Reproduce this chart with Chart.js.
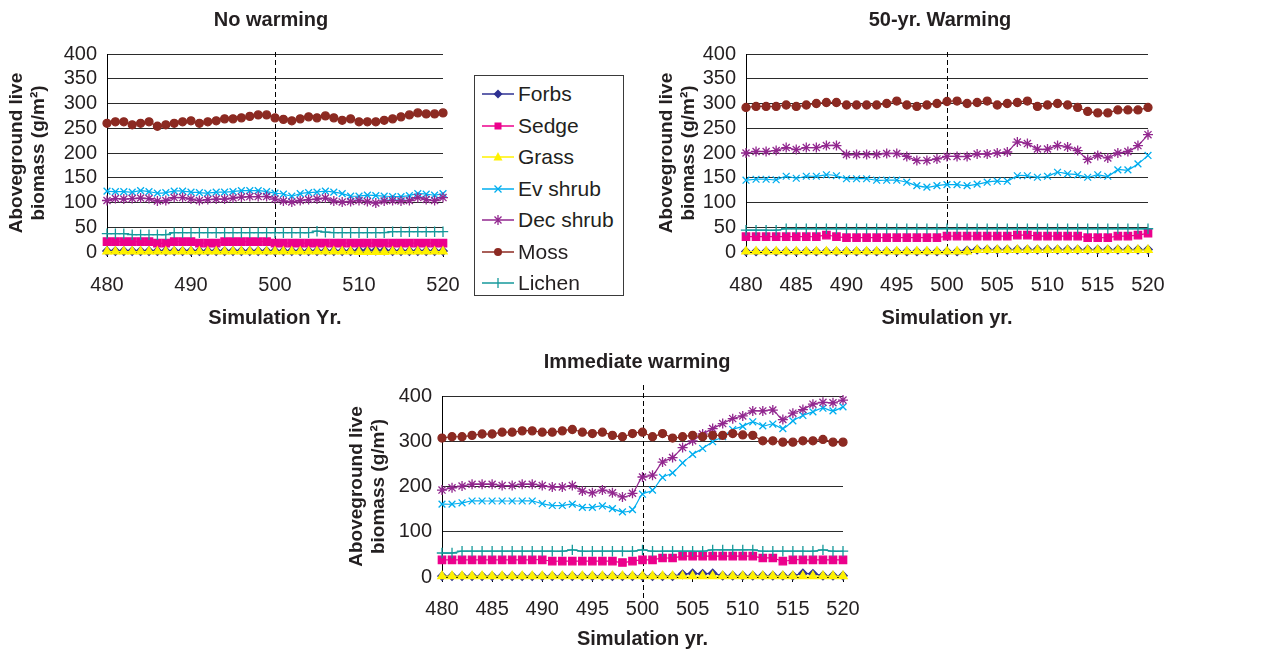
<!DOCTYPE html>
<html>
<head>
<meta charset="utf-8">
<title>Aboveground live biomass</title>
<script src="https://cdn.jsdelivr.net/npm/chart.js@4.4.1/dist/chart.umd.min.js"></script>
<style>
  body { margin: 0; background: #fff; font-family: "Liberation Sans", Arial, sans-serif; }
  #page { position: relative; width: 1273px; height: 651px; overflow: hidden; }
  #page canvas { position: absolute; }
  #legend {
    position: absolute; left: 474px; top: 75px; width: 150px; height: 221px;
    border: 1px solid #3a3a3a; box-sizing: border-box; background: #fff;
  }
  #legend .row {
    position: absolute; left: 7px; height: 32px; display: flex; align-items: center;
    font-size: 21px; color: #231f20; white-space: nowrap;
  }
  #legend svg { margin-right: 4px; }
</style>
</head>
<body>
<div id="page">
  <canvas id="noWarming" width="500" height="330" style="left:0;top:0"></canvas>
  <canvas id="warming50" width="623" height="330" style="left:650px;top:0"></canvas>
  <canvas id="immediate" width="600" height="311" style="left:340px;top:340px"></canvas>
  <div id="legend"></div>
</div>
<script>
// simulation years on the x axis
const years = [480, 481, 482, 483, 484, 485, 486, 487, 488, 489,
               490, 491, 492, 493, 494, 495, 496, 497, 498, 499,
               500, 501, 502, 503, 504, 505, 506, 507, 508, 509,
               510, 511, 512, 513, 514, 515, 516, 517, 518, 519, 520];

const seriesNames = ["Forbs", "Sedge", "Grass", "Ev shrub", "Dec shrub", "Moss", "Lichen"];

// tick labels
const xTicksNoWarming = [480, 490, 500, 510, 520];
const xTicksWarming = [480, 485, 490, 495, 500, 505, 510, 515, 520];
const yTicks50 = [0, 50, 100, 150, 200, 250, 300, 350, 400];
const yTicks100 = [0, 100, 200, 300, 400];

// --- No warming ---
const noForbs = [2, 2, 2, 2, 2, 2, 2, 2, 2, 2,
                 2, 2, 2, 2, 2, 2, 2, 2, 2, 2,
                 2, 2, 2, 2, 2, 2, 2, 2, 2, 2,
                 3, 3, 3, 3, 2, 2, 2, 2, 2, 2, 2];
const noGrass = [1, 1, 1, 1, 1, 1, 1, 1, 1, 1,
                 1, 1, 1, 1, 1, 1, 1, 1, 1, 1,
                 1, 1, 1, 1, 1, 1, 1, 1, 1, 1,
                 0, 0, 0, 0, 1, 1, 1, 1, 1, 1, 1];
const noSedge = [21, 21, 21, 21, 21, 21, 18, 18, 21, 21,
                 21, 18, 18, 18, 21, 21, 21, 21, 21, 21,
                 18, 18, 18, 18, 18, 18, 18, 18, 18, 18,
                 18, 18, 18, 18, 18, 18, 18, 18, 18, 18, 18];
const noEvShrub = [123, 122, 122, 121, 124, 122, 119, 120, 123, 123,
                   121, 120, 119, 121, 121, 122, 124, 124, 124, 122,
                   119, 117, 113, 118, 120, 121, 123, 121, 118, 113,
                   113, 115, 114, 113, 112, 112, 114, 118, 117, 115, 118];
const noDecShrub = [104, 108, 107, 108, 109, 108, 103, 104, 110, 110,
                    107, 104, 106, 107, 107, 109, 111, 112, 112, 112,
                    107, 103, 101, 104, 106, 107, 109, 103, 101, 102,
                    104, 102, 99, 103, 104, 103, 104, 110, 106, 104, 110];
const noMoss = [260, 263, 263, 257, 260, 263, 254, 257, 260, 263,
                265, 260, 263, 265, 269, 269, 271, 274, 277, 277,
                271, 268, 265, 269, 273, 271, 275, 271, 266, 269,
                263, 263, 263, 266, 269, 273, 277, 281, 279, 279, 281];
const noLichen = [37, 37, 37, 35, 35, 35, 35, 35, 39, 39,
                  39, 39, 39, 39, 39, 39, 39, 39, 39, 39,
                  39, 39, 39, 39, 39, 42, 40, 39, 39, 39,
                  39, 39, 39, 39, 41, 41, 41, 41, 41, 41, 41];

// --- 50-yr. warming ---
const w50Forbs = [1, 1, 1, 1, 1, 1, 1, 1, 1, 1,
                  1, 1, 1, 1, 1, 1, 1, 1, 1, 1,
                  1, 1, 3, 5, 5, 5, 5, 5, 5, 5,
                  5, 5, 5, 5, 5, 5, 5, 5, 5, 5, 5];
const w50Grass = [1, 1, 1, 1, 1, 1, 1, 1, 1, 1,
                  1, 1, 1, 1, 1, 1, 1, 1, 1, 1,
                  1, 1, 1, 4, 4, 4, 4, 4, 4, 4,
                  4, 4, 4, 4, 4, 4, 4, 4, 4, 4, 4];
const w50Sedge = [31, 31, 31, 31, 31, 31, 31, 31, 34, 31,
                  29, 29, 29, 29, 29, 29, 29, 29, 29, 29,
                  32, 32, 32, 32, 32, 32, 32, 34, 34, 32,
                  32, 32, 32, 32, 29, 29, 29, 32, 32, 34, 38];
const w50EvShrub = [145, 147, 147, 146, 153, 149, 153, 153, 156, 154,
                    148, 148, 148, 145, 145, 145, 141, 134, 131, 134,
                    136, 136, 134, 137, 141, 143, 143, 154, 154, 151,
                    153, 161, 158, 156, 151, 156, 153, 166, 166, 178, 195];
const w50DecShrub = [200, 203, 203, 205, 211, 207, 211, 211, 215, 215,
                     197, 197, 197, 197, 199, 199, 193, 185, 185, 188,
                     193, 193, 193, 198, 198, 200, 202, 222, 219, 208,
                     208, 215, 212, 205, 187, 195, 190, 200, 203, 215, 237];
const w50Moss = [292, 294, 294, 294, 297, 294, 297, 300, 302, 302,
                 297, 297, 297, 297, 300, 305, 297, 294, 297, 300,
                 304, 305, 300, 302, 305, 297, 300, 302, 305, 294,
                 297, 300, 297, 292, 284, 281, 281, 287, 287, 287, 292];
const w50Lichen = [44, 44, 44, 44, 47, 47, 47, 47, 47, 47,
                   47, 47, 47, 47, 47, 47, 47, 47, 47, 47,
                   47, 47, 47, 47, 47, 47, 47, 47, 47, 47,
                   47, 47, 47, 47, 47, 47, 47, 47, 47, 47, 47];

// --- Immediate warming ---
const imForbs = [2, 2, 2, 2, 2, 2, 2, 2, 2, 2,
                 2, 2, 2, 2, 2, 2, 2, 2, 2, 2,
                 2, 2, 2, 2, 6, 8, 7, 8, 3, 3,
                 3, 3, 3, 3, 3, 3, 8, 7, 3, 3, 3];
const imGrass = [2, 2, 2, 2, 2, 2, 2, 2, 2, 2,
                 2, 2, 2, 2, 2, 2, 2, 2, 2, 2,
                 2, 2, 2, 2, 2, 2, 2, 2, 2, 2,
                 2, 2, 2, 2, 2, 2, 2, 2, 2, 2, 2];
const imSedge = [38, 38, 38, 38, 38, 38, 38, 38, 38, 38,
                 38, 35, 35, 35, 35, 35, 35, 35, 32, 35,
                 38, 38, 42, 42, 46, 46, 46, 46, 46, 46,
                 46, 46, 42, 42, 35, 38, 38, 38, 38, 38, 38];
const imEvShrub = [161, 161, 164, 168, 168, 168, 168, 168, 168, 168,
                   162, 158, 158, 161, 154, 154, 157, 151, 144, 149,
                   183, 192, 220, 230, 252, 271, 284, 299, 310, 326,
                   333, 343, 334, 338, 328, 345, 357, 365, 373, 367, 376];
const imDecShrub = [192, 197, 201, 205, 205, 205, 202, 202, 205, 205,
                    202, 199, 199, 202, 190, 186, 192, 186, 177, 185,
                    221, 225, 254, 264, 286, 301, 316, 328, 339, 350,
                    356, 367, 367, 369, 348, 362, 370, 382, 386, 385, 391];
const imMoss = [307, 310, 310, 313, 316, 316, 320, 320, 323, 323,
                320, 320, 323, 326, 320, 317, 320, 313, 310, 317,
                320, 310, 317, 307, 310, 313, 310, 313, 313, 317,
                314, 313, 301, 301, 298, 298, 301, 301, 304, 298, 298];
const imLichen = [53, 53, 57, 57, 57, 57, 57, 57, 57, 57,
                  57, 57, 57, 60, 57, 57, 57, 57, 57, 57,
                  60, 57, 57, 57, 57, 57, 57, 60, 60, 60,
                  60, 60, 57, 57, 57, 57, 57, 57, 60, 57, 57];

const ink = "#231f20";
const family = '"Liberation Sans", Arial, sans-serif';
Chart.defaults.font.family = family;
Chart.defaults.color = ink;

const seriesColors = ["#2e3192", "#ec008c", "#fff200", "#00aeef", "#92278f", "#8c2a22", "#15999b"];
const markerStyles = ["rectRot", "rect", "triangle", "crossRot", "star", "circle", "cross"];
const markerSizes = [4.2, 5.2, 4.8, 4.8, 5, 4, 5.2];

// dashed vertical line marking the start of warming
const startLine = {
  id: "startLine",
  beforeDatasetsDraw(chart, args, opts) {
    const ctx = chart.ctx;
    const x = Math.round(chart.scales.x.getPixelForValue(opts.value)) + 0.5;
    ctx.save();
    ctx.setLineDash([5, 3]);
    ctx.strokeStyle = "#000";
    ctx.lineWidth = 1;
    ctx.beginPath();
    ctx.moveTo(x, chart.chartArea.top - opts.above);
    ctx.lineTo(x, chart.chartArea.bottom + opts.below);
    ctx.stroke();
    ctx.restore();
  }
};

// panel heading, centred where the original put it
const panelTitle = {
  id: "panelTitle",
  afterDraw(chart, args, opts) {
    const ctx = chart.ctx;
    ctx.save();
    ctx.font = "bold 20px " + family;
    ctx.fillStyle = ink;
    ctx.textAlign = "center";
    ctx.textBaseline = "alphabetic";
    ctx.fillText(opts.text, opts.x, opts.y);
    ctx.restore();
  }
};

function makeDatasets(values) {
  return values.map((vals, i) => ({
    label: seriesNames[i],
    data: vals.map((v, j) => ({ x: years[j], y: v })),
    borderColor: seriesColors[i],
    backgroundColor: seriesColors[i],
    borderWidth: 1.2,
    tension: 0.3,
    pointStyle: markerStyles[i],
    pointRadius: markerSizes[i],
    pointBorderWidth: 1.3,
    pointBorderColor: seriesColors[i],
    pointBackgroundColor: seriesColors[i],
    clip: false,
    order: seriesNames.length - i
  }));
}

function makeChart(id, p) {
  return new Chart(document.getElementById(id), {
    type: "line",
    data: { datasets: makeDatasets(p.series) },
    plugins: [startLine, panelTitle],
    options: {
      responsive: false,
      animation: false,
      devicePixelRatio: 1,
      layout: { padding: { left: 0, top: p.top, right: p.right, bottom: 0 } },
      plugins: {
        legend: { display: false },
        tooltip: { enabled: false },
        startLine: { value: 500, above: p.dashAbove, below: p.dashBelow },
        panelTitle: { text: p.title, x: p.titleX, y: p.titleY }
      },
      scales: {
        x: {
          type: "linear",
          min: 480,
          max: 520,
          afterBuildTicks: (s) => { s.ticks = p.xTicks.map((v) => ({ value: v })); },
          afterFit: (s) => { s.height = p.xHeight; },
          grid: { drawOnChartArea: false, drawTicks: true, tickLength: 5, color: "#000" },
          border: { color: "#000" },
          ticks: { font: { size: 20 }, color: ink, padding: p.xTickPad, maxRotation: 0, autoSkip: false },
          title: {
            display: true,
            text: p.xTitle,
            font: { size: 20, weight: "bold" },
            color: ink,
            padding: { top: 0, bottom: p.xTitlePad }
          }
        },
        y: {
          min: 0,
          max: 400,
          afterBuildTicks: (s) => { s.ticks = p.yTicks.map((v) => ({ value: v })); },
          afterFit: (s) => { s.width = p.yWidth; },
          grid: { color: "#2b2b2b", drawTicks: false },
          border: { color: "#000" },
          ticks: { font: { size: 20 }, color: ink, padding: 10, autoSkip: false },
          title: {
            display: true,
            text: ["Aboveground live", "biomass (g/m\u00b2)"],
            font: { size: 19, weight: "bold", lineHeight: 1.15 },
            color: ink,
            padding: { top: 6, bottom: 0 }
          }
        }
      }
    }
  });
}

makeChart("noWarming", {
  series: [noForbs, noSedge, noGrass, noEvShrub, noDecShrub, noMoss, noLichen],
  title: "No warming", titleX: 271, titleY: 26,
  xTitle: "Simulation Yr.", xTicks: xTicksNoWarming, yTicks: yTicks50,
  top: 54, right: 57, yWidth: 107, xHeight: 78, xTickPad: 16, xTitlePad: 0,
  dashAbove: 2, dashBelow: 6
});

makeChart("warming50", {
  series: [w50Forbs, w50Sedge, w50Grass, w50EvShrub, w50DecShrub, w50Moss, w50Lichen],
  title: "50-yr. Warming", titleX: 290, titleY: 26,
  xTitle: "Simulation yr.", xTicks: xTicksWarming, yTicks: yTicks50,
  top: 54, right: 125, yWidth: 96, xHeight: 78, xTickPad: 16, xTitlePad: 0,
  dashAbove: 2, dashBelow: 5
});

makeChart("immediate", {
  series: [imForbs, imSedge, imGrass, imEvShrub, imDecShrub, imMoss, imLichen],
  title: "Immediate warming", titleX: 297, titleY: 28,
  xTitle: "Simulation yr.", xTicks: xTicksWarming, yTicks: yTicks100,
  top: 56, right: 97, yWidth: 102, xHeight: 74, xTickPad: 15, xTitlePad: 0,
  dashAbove: 11, dashBelow: 22
});

// legend box between the two top panels
const legendMarks = [
  '<polygon points="16,2.5 20.5,7 16,11.5 11.5,7" fill="C"/>',
  '<rect x="12.5" y="3.5" width="7" height="7" fill="C"/>',
  '<polygon points="16,2 20.5,10.5 11.5,10.5" fill="C"/>',
  '<path d="M12.5 3.5 L19.5 10.5 M19.5 3.5 L12.5 10.5" stroke="C" stroke-width="1.3"/>',
  '<path d="M12.5 3.5 L19.5 10.5 M19.5 3.5 L12.5 10.5 M16 2 L16 12" stroke="C" stroke-width="1.3"/>',
  '<circle cx="16" cy="7" r="4" fill="C"/>',
  '<path d="M16 2 L16 12" stroke="C" stroke-width="1.3"/>'
];
const legend = document.getElementById("legend");
seriesNames.forEach((name, i) => {
  const row = document.createElement("div");
  row.className = "row";
  row.style.top = (2 + i * 31.5) + "px";
  row.innerHTML =
    '<svg width="32" height="14" viewBox="0 0 32 14">' +
    '<line x1="0" y1="7" x2="32" y2="7" stroke="' + seriesColors[i] + '" stroke-width="1.5"/>' +
    legendMarks[i].replace(/C/g, seriesColors[i]) +
    '</svg><span>' + name + '</span>';
  legend.appendChild(row);
});
</script>
</body>
</html>
